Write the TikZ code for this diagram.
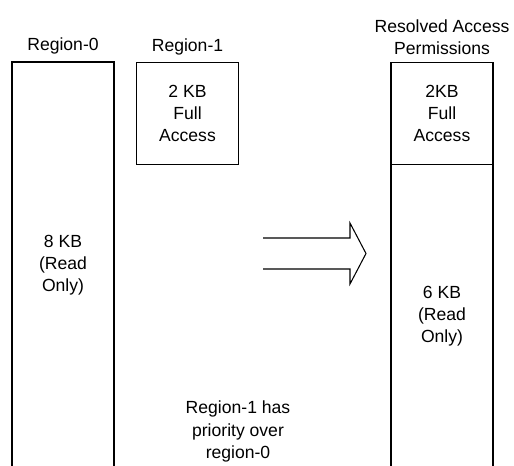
\documentclass[tikz,border=0pt]{standalone}
\usepackage{fontspec}
\setmainfont{Liberation Sans}
\usetikzlibrary{positioning}

\begin{document}
\begin{tikzpicture}[
	x=0.02cm, y=-0.02cm,
	blocco/.style={draw, line width=1.1pt, minimum width=2.04cm, inner sep=0pt, outer sep=0pt, align=center, font=\fontsize{10}{12.6}\selectfont},
	titolo/.style={inner sep=0pt, align=center, font=\fontsize{10}{12.6}\selectfont},
	freccia/.style={line width=0.6pt, line join=miter},
	]
	
	\def\Lq{2.04cm}   % lato dei blocchi da 2 KB
	
	\useasboundingbox (0,0) rectangle (514,466);
	
	%%═══ REGIONI DI PARTENZA ══════════════════════════
	\node[blocco, minimum height=8.12cm] (reg0) at (63,265) {8 KB\\(Read\\Only)};
	\node[blocco, minimum height=\Lq] (reg1) at (187.5,113.5) {2 KB\\Full\\Access};
	\node[titolo, above=0.15cm of reg0] (tit0) {Region-0};
	\node[titolo, above=0.15cm of reg1] (tit1) {Region-1};
	
	%%═══ PERMESSI RISOLTI ═════════════════════════════
	\node[blocco, minimum height=\Lq] (ris1) at (442,113.5) {2KB\\Full\\Access};
	\node[blocco, minimum height=6.08cm, below=0pt of ris1] (ris0) {6 KB\\(Read\\Only)};
	\node[titolo, above=0.15cm of ris1] (titris) {Resolved Access\\Permissions};
	
	% freccia larga (aperta a sinistra)
	\draw[freccia] (263,238) -- (350,238) -- (350,223) -- (366,253.5)
		-- (350,284) -- (350,269) -- (263,269);
	
	\node[titolo] (nota) at (238,431.5) {Region-1 has\\priority over\\region-0};
	
\end{tikzpicture}
\end{document}
